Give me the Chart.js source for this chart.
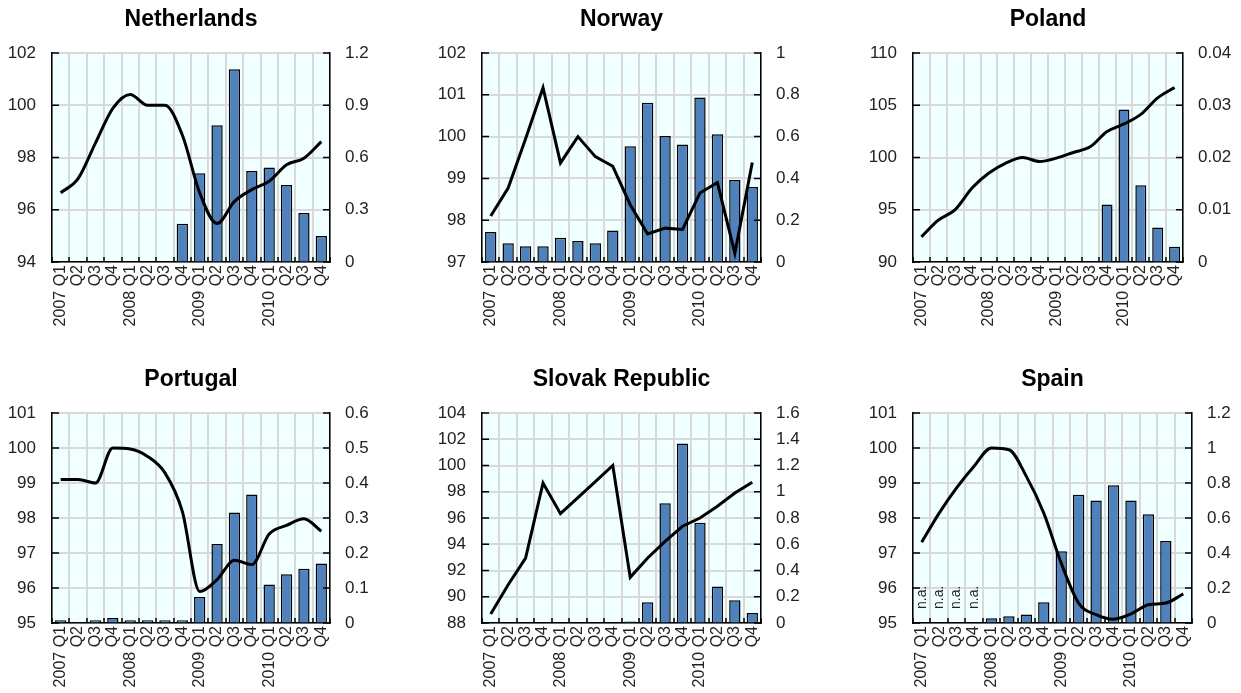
<!DOCTYPE html>
<html>
<head>
<meta charset="utf-8">
<script src="https://cdn.jsdelivr.net/npm/chart.js@4"></script>
<style>
  body { margin: 0; background: #fff; }
  #wrap { position: relative; width: 1241px; height: 693px; overflow: hidden; }
  canvas { position: absolute; }
</style>
</head>
<body>
<div id="wrap">
  <canvas id="c0" width="414" height="345" style="left:0;top:0"></canvas>
  <canvas id="c1" width="413" height="345" style="left:414px;top:0"></canvas>
  <canvas id="c2" width="414" height="345" style="left:827px;top:0"></canvas>
  <canvas id="c3" width="414" height="333" style="left:0;top:360px"></canvas>
  <canvas id="c4" width="413" height="333" style="left:414px;top:360px"></canvas>
  <canvas id="c5" width="414" height="333" style="left:827px;top:360px"></canvas>
</div>
<script>
const quarters = ['2007 Q1', 'Q2', 'Q3', 'Q4', '2008 Q1', 'Q2', 'Q3', 'Q4',
                  '2009 Q1', 'Q2', 'Q3', 'Q4', '2010 Q1', 'Q2', 'Q3', 'Q4'];

// line = left axis, bars = right axis
const nlIndex = [96.65, 97.19, 98.55, 99.88, 100.41, 100.0, 100.0, 98.86, 96.65, 95.47, 96.32, 96.77, 97.09, 97.72, 97.97, 98.61];
const nlBars = [null, null, null, null, null, null, null, 0.22, 0.51, 0.785, 1.107, 0.522, 0.543, 0.442, 0.282, 0.149];
const nlLeftTicks = [94, 96, 98, 100, 102];
const nlRightTicks = [0, 0.3, 0.6, 0.9, 1.2];

const noIndex = [98.10, 98.77, 99.95, 101.17, 99.37, 100.0, 99.52, 99.29, 98.37, 97.67, 97.81, 97.78, 98.65, 98.90, 97.21, 99.38];
const noBars = [0.143, 0.090, 0.075, 0.075, 0.116, 0.100, 0.090, 0.151, 0.554, 0.762, 0.603, 0.562, 0.787, 0.611, 0.392, 0.359];
const noLeftTicks = [97, 98, 99, 100, 101, 102];
const noRightTicks = [0, 0.2, 0.4, 0.6, 0.8, 1];

const plIndex = [92.41, 94.0, 95.02, 97.08, 98.51, 99.46, 100.0, 99.62, 99.94, 100.48, 101.02, 102.48, 103.21, 104.13, 105.71, 106.70];
const plBars = [null, null, null, null, null, null, null, null, null, null, null, 0.011, 0.0292, 0.0147, 0.0066, 0.0029];
const plLeftTicks = [90, 95, 100, 105, 110];
const plRightTicks = [0, 0.01, 0.02, 0.03, 0.04];

const ptIndex = [99.10, 99.10, 99.0, 100.0, 99.97, 99.76, 99.29, 98.19, 95.90, 96.24, 96.79, 96.67, 97.54, 97.79, 97.98, 97.62];
const ptBars = [0.0076, 0.003, 0.0076, 0.014, 0.0076, 0.0076, 0.0076, 0.0076, 0.074, 0.226, 0.316, 0.367, 0.110, 0.139, 0.155, 0.170];
const ptLeftTicks = [95, 96, 97, 98, 99, 100, 101];
const ptRightTicks = [0, 0.1, 0.2, 0.3, 0.4, 0.5, 0.6];

const skIndex = [88.69, 90.92, 92.95, 98.67, 96.33, 97.55, 98.77, 100.0, 91.48, 92.95, 94.22, 95.37, 96.0, 96.89, 97.90, 98.72];
const skBars = [null, null, null, null, null, null, null, null, 0.012, 0.158, 0.912, 1.367, 0.764, 0.279, 0.173, 0.076];
const skLeftTicks = [88, 90, 92, 94, 96, 98, 100, 102, 104];
const skRightTicks = [0, 0.2, 0.4, 0.6, 0.8, 1, 1.2, 1.4, 1.6];

const esIndex = [97.31, 98.14, 98.86, 99.48, 100.0, 99.95, 99.19, 98.14, 96.71, 95.57, 95.24, 95.11, 95.26, 95.52, 95.57, 95.83];
const esBars = [null, null, null, null, 0.027, 0.038, 0.048, 0.118, 0.410, 0.733, 0.700, 0.787, 0.700, 0.622, 0.469, null];
const esNotes = ['n.a.', 'n.a.', 'n.a.', 'n.a.', '', '', '', '', '', '', '', '', '', '', '', ''];
const esLeftTicks = [95, 96, 97, 98, 99, 100, 101];
const esRightTicks = [0, 0.2, 0.4, 0.6, 0.8, 1, 1.2];

const FONT = '"Liberation Sans", Arial, sans-serif';

// background, inward tick marks, title over the plot area, n.a. notes
const panelDecor = {
  id: 'panelDecor',
  beforeDraw(chart) {
    const { ctx, chartArea: a } = chart;
    ctx.save();
    ctx.fillStyle = '#f0ffff';
    ctx.fillRect(a.left, a.top, a.right - a.left, a.bottom - a.top);
    ctx.restore();
  },
  afterDraw(chart, args, opts) {
    const { ctx, chartArea: a, scales } = chart;
    ctx.save();
    ctx.strokeStyle = '#000';
    ctx.lineWidth = 1.5;
    ctx.beginPath();
    scales.y.ticks.forEach((t, i) => {
      const py = scales.y.getPixelForTick(i);
      ctx.moveTo(a.left, py); ctx.lineTo(a.left + 7, py);
    });
    scales.y1.ticks.forEach((t, i) => {
      const py = scales.y1.getPixelForTick(i);
      ctx.moveTo(a.right, py); ctx.lineTo(a.right - 7, py);
    });
    const x = scales.x;
    const step = x.getPixelForValue(1) - x.getPixelForValue(0);
    for (let i = 0; i <= x.ticks.length; i++) {
      const px = Math.round(x.getPixelForValue(0) - step / 2 + step * i);
      ctx.moveTo(px, a.bottom); ctx.lineTo(px, a.bottom - 5);
    }
    ctx.stroke();

    ctx.fillStyle = '#000';
    ctx.font = 'bold 23px ' + FONT;
    ctx.textAlign = 'center';
    ctx.textBaseline = 'middle';
    ctx.fillText(opts.title, (a.left + a.right) / 2, 20);

    if (opts.notes) {
      ctx.font = '14px ' + FONT;
      ctx.fillStyle = '#222';
      opts.notes.forEach((n, i) => {
        if (!n) return;
        ctx.save();
        ctx.translate(x.getPixelForValue(i), a.bottom - 14);
        ctx.rotate(-Math.PI / 2);
        ctx.textAlign = 'left';
        ctx.fillText(n, 0, 0);
        ctx.restore();
      });
    }
    ctx.restore();
  }
};

const fmt = v => String(Number(v.toFixed(4)));

function makePanel(id, p) {
  const tickFont = { family: FONT, size: 17 };
  new Chart(document.getElementById(id), {
    data: {
      labels: quarters,
      datasets: [
        {
          type: 'line', data: p.line, yAxisID: 'y', order: 0,
          borderColor: '#000', borderWidth: 3, pointRadius: 0,
          cubicInterpolationMode: p.smooth ? 'monotone' : 'default', tension: 0, fill: false
        },
        {
          type: 'bar', data: p.bars, yAxisID: 'y1', order: 1,
          backgroundColor: '#4f81bd', borderColor: '#000', borderWidth: 1.5,
          barPercentage: 0.65, categoryPercentage: 1
        }
      ]
    },
    options: {
      responsive: false,
      animation: false,
      layout: { padding: { top: 53, right: p.padRight, left: 0, bottom: 0 } },
      plugins: {
        legend: { display: false },
        tooltip: { enabled: false },
        panelDecor: { title: p.title, notes: p.notes }
      },
      scales: {
        x: {
          type: 'category', offset: true,
          grid: { offset: true, color: '#d9d9d9', lineWidth: 2, drawTicks: false, tickLength: 0 },
          border: { color: '#000', width: 1.5 },
          ticks: {
            autoSkip: false, minRotation: 90, maxRotation: 90, padding: 3,
            color: '#222', font: { family: FONT, size: 16 }
          },
          afterFit: s => { s.height = p.xH; }
        },
        y: {
          position: 'left', min: p.leftTicks[0], max: p.leftTicks[p.leftTicks.length - 1],
          grid: { color: '#d9d9d9', lineWidth: 2, drawTicks: false, tickLength: 0 },
          border: { color: '#000', width: 1.5 },
          ticks: { padding: 16, color: '#222', font: tickFont, callback: fmt },
          afterBuildTicks: s => { s.ticks = p.leftTicks.map(v => ({ value: v })); },
          afterFit: s => { s.width = p.leftW; }
        },
        y1: {
          position: 'right', min: 0, max: p.rightTicks[p.rightTicks.length - 1],
          grid: { drawOnChartArea: false, drawTicks: false, tickLength: 0 },
          border: { color: '#000', width: 1.5 },
          ticks: { padding: 15, color: '#222', font: tickFont, callback: fmt },
          afterBuildTicks: s => { s.ticks = p.rightTicks.map(v => ({ value: v })); },
          afterFit: s => { s.width = p.rightW; }
        }
      }
    },
    plugins: [panelDecor]
  });
}

makePanel('c0', { title: 'Netherlands', line: nlIndex, bars: nlBars, leftTicks: nlLeftTicks, rightTicks: nlRightTicks,
  smooth: true, leftW: 52, rightW: 50, padRight: 34, xH: 83 });
makePanel('c1', { title: 'Norway', line: noIndex, bars: noBars, leftTicks: noLeftTicks, rightTicks: noRightTicks,
  smooth: false, leftW: 68, rightW: 50, padRight: 16, xH: 83 });
makePanel('c2', { title: 'Poland', line: plIndex, bars: plBars, leftTicks: plLeftTicks, rightTicks: plRightTicks,
  smooth: true, leftW: 86, rightW: 58, padRight: 0, xH: 83 });
makePanel('c3', { title: 'Portugal', line: ptIndex, bars: ptBars, leftTicks: ptLeftTicks, rightTicks: ptRightTicks,
  smooth: true, leftW: 52, rightW: 50, padRight: 34, xH: 70 });
makePanel('c4', { title: 'Slovak Republic', line: skIndex, bars: skBars, leftTicks: skLeftTicks, rightTicks: skRightTicks,
  smooth: false, leftW: 68, rightW: 50, padRight: 16, xH: 70 });
makePanel('c5', { title: 'Spain', line: esIndex, bars: esBars, leftTicks: esLeftTicks, rightTicks: esRightTicks,
  smooth: true, leftW: 86, rightW: 49, padRight: 0, xH: 70, notes: esNotes });
</script>
</body>
</html>
